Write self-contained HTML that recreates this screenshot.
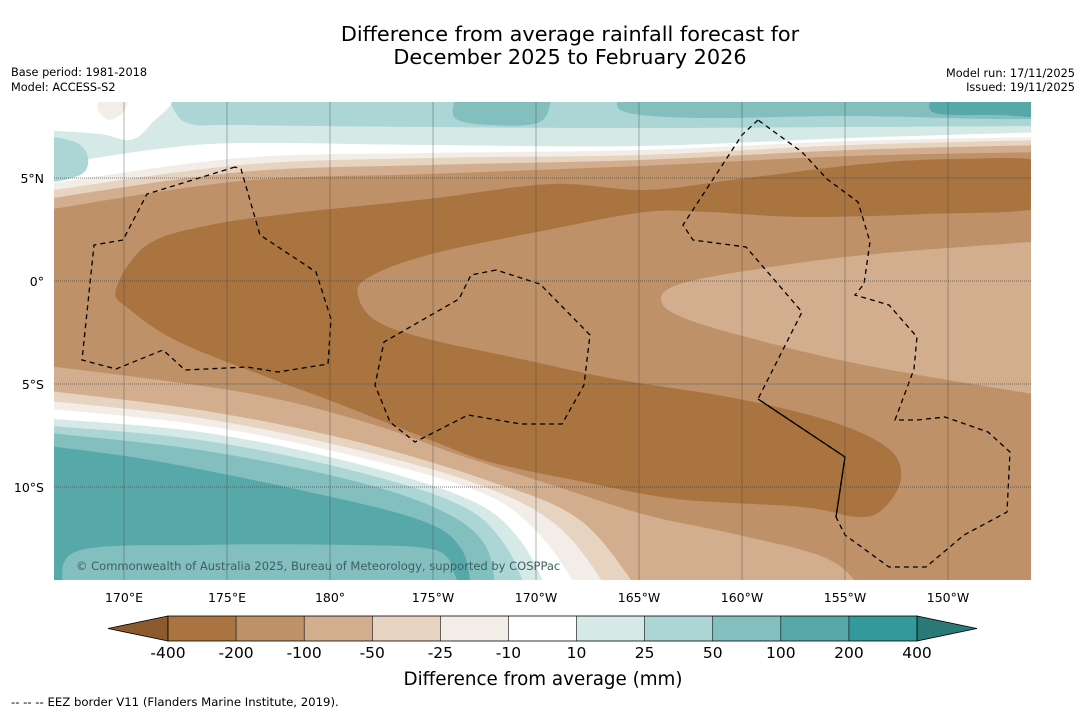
<!DOCTYPE html>
<html><head><meta charset="utf-8"><style>
body{margin:0;background:#fff;width:1085px;height:713px;overflow:hidden;font-family:"DejaVu Sans",sans-serif;}
svg text{font-family:"DejaVu Sans","Liberation Sans",sans-serif;}
</style></head><body>
<svg id="s" width="1085" height="713" xmlns="http://www.w3.org/2000/svg">
<text x="570" y="41" text-anchor="middle" font-size="20.8">Difference from average rainfall forecast for</text>
<text x="570" y="64" text-anchor="middle" font-size="20.8">December 2025 to February 2026</text>
<text x="11" y="76" font-size="11.3">Base period: 1981-2018</text>
<text x="11" y="91" font-size="11.3">Model: ACCESS-S2</text>
<text x="1075" y="77" font-size="11.3" text-anchor="end">Model run: 17/11/2025</text>
<text x="1075" y="91" font-size="11.3" text-anchor="end">Issued: 19/11/2025</text>
<defs><clipPath id="mc"><rect x="54" y="102" width="977" height="478"/></clipPath></defs>
<g id="map" clip-path="url(#mc)"></g>
<g id="axes"></g>
<g id="cbar"></g>
<text x="543" y="685" text-anchor="middle" font-size="18.3">Difference from average (mm)</text>
<text x="11" y="706" font-size="11.7">-- -- -- EEZ border V11 (Flanders Marine Institute, 2019).</text>
</svg>
<script>
// Colorbar data
const levels=[-400,-200,-100,-50,-25,-10,10,25,50,100,200,400];
const colors=["#aa7440","#bf9168","#d2ae8e","#e6d3c0","#f3ede8","#ffffff","#d5e9e7","#acd5d5","#83bfbf","#57a9a9","#33999a"];
const extLow="#8c5a2c", extHigh="#2a7878";
// Longitude / latitude tick labels
const lonLabels=["170°E","175°E","180°","175°W","170°W","165°W","160°W","155°W","150°W"];
const lonValues=[170,175,180,185,190,195,200,205,210];
const latLabels=["5°N","0°","5°S","10°S"];
const latValues=[5,0,-5,-10];

const NS="http://www.w3.org/2000/svg";
function mk(tag,attrs,parent){const e=document.createElementNS(NS,tag);for(const k in attrs)e.setAttribute(k,attrs[k]);parent.appendChild(e);return e;}
const xLon=l=>124+(l-170)*20.6;
const yLat=l=>281-l*20.6;

function smooth(pts,closed){
  let d="M"+pts[0][0]+","+pts[0][1];
  const n=pts.length;
  for(let i=0;i<(closed?n:n-1);i++){
    const p0=pts[(i-1+n)%n],p1=pts[i],p2=pts[(i+1)%n],p3=pts[(i+2)%n];
    const a=closed||i>0?p0:p1, b=closed||i<n-2?p3:p2;
    const c1=[p1[0]+(p2[0]-a[0])/6,p1[1]+(p2[1]-a[1])/6];
    const c2=[p2[0]-(b[0]-p1[0])/6,p2[1]-(b[1]-p1[1])/6];
    d+=" C"+c1[0].toFixed(1)+","+c1[1].toFixed(1)+" "+c2[0].toFixed(1)+","+c2[1].toFixed(1)+" "+p2[0]+","+p2[1];
  }
  return d+(closed?"Z":"");
}
const map=document.getElementById('map');
function band(d,fill,name){const p=mk('path',{d:d,fill:fill},map);}
const base=mk('rect',{x:54,y:102,width:977,height:478,fill:"#bf9168"},map);



// south bands (area below curve)
const south=[
 ["#d2ae8e",[[40,365],[241,392],[365,422],[459,455],[552,485],[646,515],[739,535],[830,560],[870,600]]],
 ["#e6d3c0",[[40,390],[200,410],[350,440],[480,478],[580,520],[645,600]]],
 ["#f3ede8",[[40,400],[200,418],[350,448],[480,485],[560,528],[615,600]]],
 ["#ffffff",[[40,408],[200,425],[350,455],[480,492],[540,535],[585,600]]],
 ["#d5e9e7",[[40,418],[200,432],[350,462],[470,500],[520,540],[552,600]]],
 ["#acd5d5",[[40,425],[200,440],[350,470],[460,505],[505,545],[530,600]]],
 ["#83bfbf",[[40,432],[200,450],[350,480],[440,510],[485,545],[497,600]]],
 ["#57a9a9",[[40,445],[150,460],[300,490],[420,520],[462,550],[472,600]]]
];
south.forEach((b,i)=>band(smooth(b[1],false)+" L40,600Z",b[0],'south-band-'+i));
band(smooth([[65,600],[75,552],[200,545],[350,545],[435,550],[455,575],[460,600]],false)+"Z","#83bfbf",'south-inner-band');

// north bands (area above curve)
const north=[
 ["#d2ae8e",[[40,211],[241,181],[428,174],[640,166],[850,156],[1045,152]]],
 ["#e6d3c0",[[40,200],[241,172],[428,165],[640,160],[850,150],[1045,145]]],
 ["#f3ede8",[[40,192],[241,165],[428,158],[640,155],[850,145],[1045,140]]],
 ["#ffffff",[[40,185],[241,158],[428,153],[640,150],[850,141],[1045,137]]],
 ["#d5e9e7",[[40,167],[150,150],[241,143],[428,145],[640,146],[850,138],[1045,132]]],
 ["#acd5d5",[[166,90],[185,122],[241,125],[428,127],[615,128],[850,127],[1045,126]]]
];
north.forEach((b,i)=>band(smooth(b[1],false)+" L1045,90 L40,90Z",b[0],'north-band-'+i));
band(smooth([[456,95],[455,118],[490,125],[540,122],[552,95]],false)+"Z","#83bfbf",'north-teal-blob');
band(smooth([[618,95],[625,112],[700,118],[850,116],[1045,118],[1045,95]],false)+"Z","#83bfbf",'north-teal-region');
band(smooth([[932,95],[935,113],[1000,115],[1045,116],[1045,95]],false)+"Z","#57a9a9",'north-dark-teal');
band(smooth([[40,95],[166,95],[150,125],[130,140],[100,134],[40,130]],false)+"Z","#ffffff",'north-white-blob');
band(smooth([[100,95],[98,110],[110,120],[125,110],[128,95]],false)+"Z","#f3ede8",'north-offwhite-blob');
band(smooth([[40,140],[75,142],[88,158],[80,175],[40,180]],true),"#acd5d5",'north-left-teal');

// main dry region
const dark=[[116,289],[147,245],[210,225],[303,212],[428,199],[552,184],[646,190],[739,179],[864,164],[957,159],[1045,163],[1045,206],[926,214],[802,217],[708,212],[646,212],[552,229],[428,255],[366,279],[359,299],[378,322],[428,339],[521,359],[615,379],[739,399],[833,422],[889,449],[901,479],[883,509],[858,517],[802,507],[677,499],[584,482],[490,462],[428,439],[334,402],[272,379],[179,342],[129,309]];
band(smooth(dark,true),"#aa7440",'dry-core-region');
const tongue=[[1045,241],[864,255],[739,272],[677,285],[661,299],[677,315],[739,335],[864,365],[1045,396]];
band(smooth(tongue,false)+"Z","#d2ae8e",'moderate-dry-tongue');

// EEZ borders
const eez=[
 [[235,167],[147,194],[123,240],[94,245],[82,360],[116,369],[163,350],[185,370],[247,367],[278,372],[328,364],[331,319],[316,272],[260,235],[241,169]],
 [[496,270],[471,275],[459,299],[384,342],[375,385],[390,422],[415,442],[468,415],[521,424],[562,424],[584,385],[590,335],[540,284]],
 [[758,120],[742,135],[683,225],[693,240],[746,247],[802,312],[758,399],[845,457],[836,517],[845,535],[889,567],[926,567],[964,535],[1007,512],[1010,452],[988,432],[945,417],[917,420],[895,420],[914,369],[917,337],[889,305],[855,295],[864,284],[870,242],[858,202],[827,179],[802,152]]
];
eez.forEach((pts,i)=>{const p=mk('polygon',{points:pts.map(p=>p.join(',')).join(' '),fill:"none",stroke:"#000","stroke-width":1.3,"stroke-dasharray":"5,4"},map);
});
const sol=mk('polyline',{points:"758,399 845,457 836,517",fill:"none",stroke:"#000","stroke-width":1.3},map);



// gridlines
const ax=document.getElementById('axes');
lonValues.forEach((v,i)=>{const x=xLon(v);
 const l=mk('line',{x1:x,y1:102,x2:x,y2:580,stroke:"#444","stroke-width":0.5,"stroke-opacity":0.8},map);
 
 const t=mk('text',{x:x,y:602,"text-anchor":"middle","font-size":12.5},ax);t.textContent=lonLabels[i];
 });
latValues.forEach((v,i)=>{const y=yLat(v);
 const l=mk('line',{x1:54,y1:y,x2:1031,y2:y,stroke:"#444","stroke-width":0.7,"stroke-dasharray":"1,1","stroke-opacity":0.9},map);
 
 const t=mk('text',{x:44,y:y+5,"text-anchor":"end","font-size":12.5},ax);t.textContent=latLabels[i];
 });
const cp=mk('text',{x:76,y:570,"font-size":11.5,fill:"#3f5f5f"},map);cp.textContent="© Commonwealth of Australia 2025, Bureau of Meteorology, supported by COSPPac";


// colorbar
const cb=document.getElementById('cbar');
const cx0=168,cx1=917,cy=616,ch=25,bw=(cx1-cx0)/colors.length;
const lo=mk('polygon',{points:`${cx0},${cy} ${cx0},${cy+ch} 108,${cy+ch/2}`,fill:extLow,stroke:"#000","stroke-width":0.8},cb);

const hi=mk('polygon',{points:`${cx1},${cy} ${cx1},${cy+ch} 977,${cy+ch/2}`,fill:extHigh,stroke:"#000","stroke-width":0.8},cb);

colors.forEach((c,i)=>{const r=mk('rect',{x:cx0+i*bw,y:cy,width:bw,height:ch,fill:c},cb);
 });
mk('rect',{x:cx0,y:cy,width:cx1-cx0,height:ch,fill:"none",stroke:"#000","stroke-width":0.8},cb);
levels.forEach((v,i)=>{const x=cx0+i*bw;
 if(i>0&&i<levels.length-1)mk('line',{x1:x,y1:cy,x2:x,y2:cy+ch,stroke:"#000","stroke-width":0.6},cb);
 const t=mk('text',{x:x,y:658,"text-anchor":"middle","font-size":15.5},cb);t.textContent=v;
 });
</script>
</body></html>
